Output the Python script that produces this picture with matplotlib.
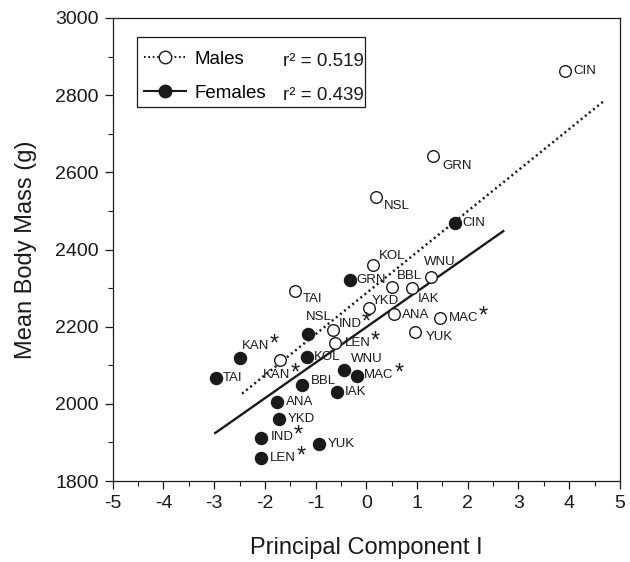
import matplotlib
matplotlib.use("Agg")
import matplotlib.pyplot as plt
from matplotlib.lines import Line2D
from matplotlib.patches import Rectangle
from matplotlib.ticker import MultipleLocator
import numpy as np

plt.rcParams['font.family'] = ['Liberation Sans', 'DejaVu Sans']

# ---------------- data ----------------
male_pops = ["CIN", "GRN", "NSL", "KOL", "WNU", "BBL", "IAK", "TAI", "YKD",
             "ANA", "MAC", "YUK", "IND", "LEN", "KAN"]
male_pc1 = [3.91, 1.32, 0.20, 0.13, 1.28, 0.50, 0.91, -1.41, 0.05,
            0.55, 1.45, 0.96, -0.65, -0.61, -1.71]
male_mass = [2863, 2642, 2537, 2361, 2328, 2302, 2300, 2292, 2248,
             2233, 2223, 2186, 2192, 2159, 2113]

female_pops = ["CIN", "GRN", "NSL", "KAN", "KOL", "TAI", "WNU", "MAC", "BBL",
               "IAK", "ANA", "YKD", "IND", "YUK", "LEN"]
female_pc1 = [1.74, -0.32, -1.16, -2.49, -1.18, -2.96, -0.45, -0.18, -1.26,
              -0.57, -1.76, -1.73, -2.07, -0.93, -2.07]
female_mass = [2469, 2321, 2182, 2118, 2121, 2068, 2088, 2073, 2048,
               2031, 2006, 1962, 1912, 1896, 1861]

starred = ["KAN", "IND", "LEN", "MAC"]

# regression fits (slope, intercept) and x-extent
male_fit = (106.3, 2287.0)
male_fit_range = (-2.45, 4.68)
female_fit = (92.1, 2199.0)
female_fit_range = (-2.98, 2.70)

male_r2 = "0.519"
female_r2 = "0.439"

x_ticks = list(range(-5, 6))
y_ticks = [1800, 2000, 2200, 2400, 2600, 2800, 3000]

# label offsets in pixels (dx, dy up)
male_offsets = {
    "CIN": (9, 0), "GRN": (9, -10), "NSL": (7, -9), "KOL": (6, 9),
    "WNU": (-7, 15), "BBL": (5, 11), "IAK": (5, -11), "TAI": (8, -8),
    "YKD": (3, 7), "ANA": (8, -1), "MAC": (9, 0), "YUK": (11, -5),
    "IND": (5, 6), "LEN": (9, 0), "KAN": (-17, -15),
}
female_offsets = {
    "CIN": (8, 0), "GRN": (6, 0), "NSL": (-2, 17), "KAN": (2, 12),
    "KOL": (7, 0), "TAI": (7, 0), "WNU": (7, 11), "MAC": (7, 1),
    "BBL": (8, 4), "IAK": (7, 0), "ANA": (9, 0), "YKD": (9, 0),
    "IND": (9, 1), "YUK": (9, 0), "LEN": (9, 0),
}

# ---------------- figure ----------------
fig = plt.figure(figsize=(6.3, 5.62), dpi=100)
ax = fig.add_axes([0.179, 0.144, 0.805, 0.824])

ink = "#1a1a1a"
dotted = (0, (0.8, 1.3))

# regression lines
xm = np.array(male_fit_range)
ax.plot(xm, male_fit[0] * xm + male_fit[1], color=ink, lw=1.8,
        linestyle=dotted, zorder=2)
xf = np.array(female_fit_range)
ax.plot(xf, female_fit[0] * xf + female_fit[1], color=ink, lw=1.7,
        linestyle='-', zorder=2)

# points
ax.scatter(male_pc1, male_mass, s=70, facecolor='white', edgecolor=ink,
           linewidth=1.0, zorder=3)
ax.scatter(female_pc1, female_mass, s=75, facecolor=ink, edgecolor=ink,
           linewidth=1.0, zorder=3)

px2pt = 72.0 / 100.0


def label_points(pops, xs, ys, offsets):
    for name, x, y in zip(pops, xs, ys):
        dx, dy = offsets[name]
        t = ax.annotate(name, xy=(x, y), xytext=(dx * px2pt, dy * px2pt),
                        textcoords='offset points', ha='left', va='center',
                        fontsize=9.5, color=ink, zorder=4)
        if name in starred:
            ax.annotate("*", xy=(1, 0.62), xycoords=t,
                        xytext=(0.5, 0), textcoords='offset points',
                        ha='left', va='center', fontsize=17, color=ink,
                        zorder=4)


label_points(male_pops, male_pc1, male_mass, male_offsets)
label_points(female_pops, female_pc1, female_mass, female_offsets)

# axes
ax.set_xlim(-5, 5)
ax.set_ylim(1800, 3000)
ax.set_xticks(x_ticks)
ax.set_yticks(y_ticks)
ax.set_xticklabels([str(v) for v in x_ticks])
ax.set_yticklabels([str(v) for v in y_ticks])
ax.xaxis.set_minor_locator(MultipleLocator(0.5))
ax.yaxis.set_minor_locator(MultipleLocator(100))
ax.tick_params(which='major', direction='out', length=6, width=0.9,
               colors=ink, labelsize=14, pad=4)
ax.tick_params(which='minor', direction='out', length=3.5, width=0.8,
               colors=ink)
ax.tick_params(top=False, right=False, which='both')
for sp in ax.spines.values():
    sp.set_color(ink)
    sp.set_linewidth(0.9)

ax.set_xlabel("Principal Component I", fontsize=17, color=ink, labelpad=18)
ax.set_ylabel("Mean Body Mass (g)", fontsize=17, color=ink, labelpad=13)

# legend
handles = [
    Line2D([], [], color=ink, lw=1.5, linestyle=dotted, marker='o',
           markersize=9, markerfacecolor='white', markeredgecolor=ink),
    Line2D([], [], color=ink, lw=1.5, linestyle='-', marker='o',
           markersize=9, markerfacecolor=ink, markeredgecolor=ink),
]
leg = ax.legend(handles, ["Males", "Females"], loc='upper left',
                bbox_to_anchor=(0.062, 0.929), fontsize=13.5, frameon=False,
                borderpad=0, handlelength=2.25, handletextpad=0.45,
                labelspacing=0.88, borderaxespad=0)
ax.add_patch(Rectangle((0.047, 0.808), 0.45, 0.151, transform=ax.transAxes,
                       facecolor='white', edgecolor=ink, linewidth=0.9,
                       zorder=5))
leg.set_zorder(6)

ax.text(0.335, 0.907, "r² = " + male_r2, transform=ax.transAxes,
        fontsize=13.5, va='center', ha='left', color=ink, zorder=6)
ax.text(0.335, 0.832, "r² = " + female_r2, transform=ax.transAxes,
        fontsize=13.5, va='center', ha='left', color=ink, zorder=6)

fig.savefig("out.png", dpi=100)
